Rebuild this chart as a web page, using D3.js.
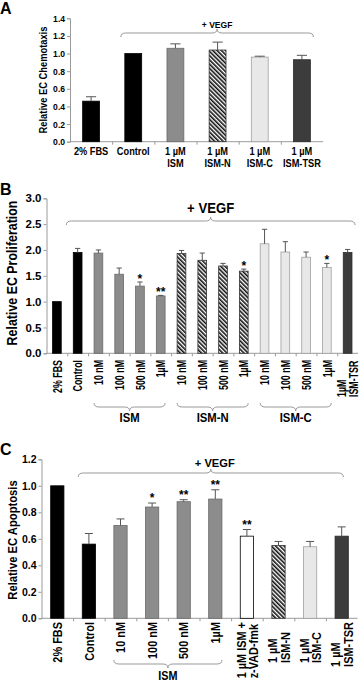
<!DOCTYPE html>
<html><head><meta charset="utf-8">
<script src="https://cdn.jsdelivr.net/npm/d3@7"></script>
<style>
body{margin:0;background:#fff}
svg{display:block}
text{font-family:"Liberation Sans",Arial,Helvetica,sans-serif;font-weight:bold;fill:#000}
</style>
</head><body>
<svg id="chart" width="360" height="683"></svg>
<script>
// ---------- Panel A: chemotaxis ----------
const catsA   = ["2% FBS", "Control", "1 µM\nISM", "1 µM\nISM-N", "1 µM\nISM-C", "1 µM\nISM-TSR"];
const typesA  = ["FBS", "Control", "ISM", "ISM-N", "ISM-C", "ISM-TSR"];
const valsA   = [0.46, 1.00, 1.06, 1.04, 0.96, 0.93];
const errsA   = [0.05, 0.00, 0.05, 0.09, 0.01, 0.05];
const sigA    = ["", "", "", "", "", ""];
const ticksA  = [0.0, 0.2, 0.4, 0.6, 0.8, 1.0, 1.2, 1.4];

// ---------- Panel B: proliferation ----------
const catsB   = ["2% FBS", "Control", "10 nM", "100 nM", "500 nM", "1µM",
                 "10 nM", "100 nM", "500 nM", "1µM",
                 "10 nM", "100 nM", "500 nM", "1µM", "1µM\nISM-TSR"];
const typesB  = ["FBS", "Control", "ISM", "ISM", "ISM", "ISM",
                 "ISM-N", "ISM-N", "ISM-N", "ISM-N",
                 "ISM-C", "ISM-C", "ISM-C", "ISM-C", "ISM-TSR"];
const valsB   = [1.00, 1.95, 1.94, 1.53, 1.30, 1.11, 1.93, 1.80, 1.69, 1.59, 2.12, 1.96, 1.86, 1.66, 1.95];
const errsB   = [0.00, 0.08, 0.06, 0.12, 0.08, 0.01, 0.06, 0.14, 0.05, 0.04, 0.28, 0.20, 0.10, 0.08, 0.06];
const sigB    = ["", "", "", "", "*", "**", "", "", "", "*", "", "", "", "*", ""];
const groupsB = [["ISM", 2, 5], ["ISM-N", 6, 9], ["ISM-C", 10, 13]];
const ticksB  = [0.0, 0.5, 1.0, 1.5, 2.0, 2.5, 3.0];

// ---------- Panel C: apoptosis ----------
const catsC   = ["2% FBS", "Control", "10 nM", "100 nM", "500 nM", "1µM",
                 "1 µM ISM +\nz-VAD-fmk", "1 µM\nISM-N", "1 µM\nISM-C", "1 µM\nISM-TSR"];
const typesC  = ["FBS", "Control", "ISM", "ISM", "ISM", "ISM", "zVAD", "ISM-N", "ISM-C", "ISM-TSR"];
const valsC   = [1.00, 0.56, 0.70, 0.84, 0.88, 0.90, 0.62, 0.55, 0.54, 0.62];
const errsC   = [0.00, 0.08, 0.05, 0.03, 0.015, 0.07, 0.05, 0.03, 0.04, 0.07];
const sigC    = ["", "", "", "*", "**", "**", "**", "", "", ""];
const groupsC = [["ISM", 2, 5]];
const ticksC  = [0.0, 0.2, 0.4, 0.6, 0.8, 1.0, 1.2];

const svg = d3.select("#chart");
const AXIS = "#9a9a9a";

// hatch pattern for ISM-N
const defs = svg.append("defs");
const pat = defs.append("pattern").attr("id", "hatch").attr("patternUnits", "userSpaceOnUse")
  .attr("width", 3).attr("height", 3).attr("patternTransform", "rotate(-45)");
pat.append("rect").attr("width", 3).attr("height", 3).attr("fill", "#fff");
pat.append("rect").attr("width", 1.6).attr("height", 3).attr("fill", "#111");

const fills = {
  "FBS":     {fill: "#000", stroke: "#000"},
  "Control": {fill: "#000", stroke: "#000"},
  "ISM":     {fill: "#8c8c8c", stroke: "#6a6a6a"},
  "ISM-N":   {fill: "url(#hatch)", stroke: "#333"},
  "ISM-C":   {fill: "#e8e8e8", stroke: "#a0a0a0"},
  "ISM-TSR": {fill: "#3c3c3c", stroke: "#2a2a2a"},
  "zVAD":    {fill: "#fff", stroke: "#000"}
};

function bracePath(x1, x2, y, dir, h, r) {
  const m = (x1 + x2) / 2;
  return `M${x1},${y - dir * h} Q${x1},${y} ${x1 + r},${y} L${m - r},${y} Q${m},${y} ${m},${y + dir * h}` +
         ` Q${m},${y} ${m + r},${y} L${x2 - r},${y} Q${x2},${y} ${x2},${y - dir * h}`;
}

// condensed text helper: horizontal (rot=false) or rotated -90
function ctext(g, x, y, str, fs, k, anchor, rot) {
  return g.append("text")
    .attr("transform", `translate(${x},${y})` + (rot ? " rotate(-90)" : "") + ` scale(${k},1)`)
    .attr("text-anchor", anchor).attr("font-size", fs).text(str);
}

function panel(o) {
  const g = svg.append("g");
  const idx = d3.range(o.cats.length);
  const x = d3.scaleBand().domain(idx).range(o.xr).paddingInner(o.pad).paddingOuter(o.pad / 2);
  const y = d3.scaleLinear().domain([0, o.ymax]).range(o.yr);
  const step = x.step(), bw = x.bandwidth();

  // y axis
  const ya = g.append("g").attr("transform", `translate(${o.xr[0]},0)`)
    .call(d3.axisLeft(y).tickValues(o.ticks).tickFormat(d3.format(".1f")).tickSize(3).tickPadding(2));
  ya.selectAll("path,line").attr("stroke", AXIS);
  ya.selectAll("text").attr("font-size", o.tick.fs).attr("fill", "#000")
    .style("font-family", "'Liberation Sans',Arial,sans-serif").style("font-weight", "bold")
    .attr("transform", `scale(${o.tick.k},1)`).attr("x", -5 / o.tick.k);

  // x axis baseline with boundary ticks
  const xa = g.append("g").attr("transform", `translate(0,${o.yr[0]})`)
    .call(d3.axisBottom(d3.scaleLinear().domain([0, o.cats.length]).range([o.xr[0], o.xr[0] + step * o.cats.length]))
      .tickValues(d3.range(1, o.cats.length)).tickSize(3).tickFormat(""));
  xa.selectAll("path,line").attr("stroke", AXIS);
  xa.select("path").attr("d", `M${o.xr[0]},0H${o.xr[1]}`);

  // y title
  ctext(g, o.title.x, o.title.y, o.title.text, o.title.fs, o.title.k, "middle", true);
  // panel letter
  g.append("text").attr("x", 0).attr("y", o.letterY).attr("font-size", 16).text(o.letter);

  // bars
  g.selectAll("rect.bar").data(idx).join("rect").attr("class", "bar")
    .attr("x", i => x(i)).attr("width", bw)
    .attr("y", i => y(o.vals[i])).attr("height", i => y(0) - y(o.vals[i]))
    .attr("fill", i => fills[o.types[i]].fill)
    .attr("stroke", i => fills[o.types[i]].stroke).attr("stroke-width", 0.8);

  // error bars (upper only)
  const eb = g.selectAll("g.err").data(idx.filter(i => o.errs[i] > 0)).join("g").attr("class", "err");
  eb.append("line").attr("x1", i => x(i) + bw / 2).attr("x2", i => x(i) + bw / 2)
    .attr("y1", i => y(o.vals[i])).attr("y2", i => y(o.vals[i] + o.errs[i]))
    .attr("stroke", "#555").attr("stroke-width", 1);
  eb.append("line").attr("x1", i => x(i) + bw / 2 - bw * 0.3).attr("x2", i => x(i) + bw / 2 + bw * 0.3)
    .attr("y1", i => y(o.vals[i] + o.errs[i])).attr("y2", i => y(o.vals[i] + o.errs[i]))
    .attr("stroke", "#555").attr("stroke-width", 1);

  // significance stars
  g.selectAll("text.sig").data(idx.filter(i => o.sig[i])).join("text").attr("class", "sig")
    .attr("x", i => x(i) + bw / 2).attr("y", i => y(o.vals[i] + o.errs[i]) + o.star.dy)
    .attr("text-anchor", "middle").attr("font-size", o.star.fs).text(i => o.sig[i]);

  // VEGF brace
  const bx1 = x(1) + o.brace.l, bx2 = x(o.cats.length - 1) + bw + o.brace.r;
  g.append("path").attr("d", bracePath(bx1, bx2, o.brace.y, -1, 4, 5))
    .attr("fill", "none").attr("stroke", "#999").attr("stroke-width", 1);
  ctext(g, (bx1 + bx2) / 2 + o.vegf.dx, o.brace.y - o.vegf.gap, "+ VEGF", o.vegf.fs, o.vegf.k, "middle", false);

  // category labels
  const L = o.lab;
  idx.forEach(i => {
    const lines = o.cats[i].split("\n");
    const cx = x(i) + bw / 2;
    if (!L.rot) {
      lines.forEach((l, k) => ctext(g, cx, L.y + k * L.lh, l, L.fs, L.k, "middle", false));
    } else if (lines.length === 1) {
      ctext(g, cx, L.y, lines[0], L.fs, L.k, "end", true).attr("dy", "0.36em");
    } else {
      // left-aligned (in rotated frame) block, bottom at least m.minY, top not above L.y
      const m = L.multi;
      const t = g.append("text").attr("text-anchor", "start").attr("font-size", L.fs);
      const spans = lines.map((l, k) => t.append("tspan").attr("x", 0).attr("y", k * m.lh).attr("dy", "0.36em").text(l));
      const maxLen = d3.max(spans, s => s.node().getComputedTextLength()) * L.k;
      const by = Math.max(m.minY, L.y + maxLen);
      t.attr("transform", `translate(${cx + m.dx},${by}) rotate(-90) scale(${L.k},1)`);
    }
  });

  // group brackets
  (o.groups || []).forEach(([name, a, b]) => {
    const x1 = x(a) + o.grp.pad, x2 = x(b) + bw - o.grp.pad;
    g.append("path").attr("d", bracePath(x1, x2, o.grp.y, 1, 4, 5))
      .attr("fill", "none").attr("stroke", "#999").attr("stroke-width", 1);
    ctext(g, (x1 + x2) / 2, o.grp.labY, name, o.grp.fs, o.grp.k, "middle", false);
  });
}

panel({
  letter: "A", letterY: 14, cats: catsA, types: typesA, vals: valsA, errs: errsA, sig: sigA,
  ticks: ticksA, ymax: 1.4, xr: [70, 323], yr: [141.7, 18.3], pad: 0.6,
  tick: {fs: 9.3, k: 0.92},
  title: {text: "Relative EC Chemotaxis", x: 46.5, y: 80, fs: 10.5, k: 0.89},
  star: {fs: 10, dy: 0}, brace: {l: -4, r: 3, y: 33}, vegf: {gap: 5, dx: 0, fs: 9.5, k: 0.9},
  lab: {rot: false, fs: 10.5, k: 0.88, y: 155, lh: 11.7}
});

panel({
  letter: "B", letterY: 195, cats: catsB, types: typesB, vals: valsB, errs: errsB, sig: sigB,
  ticks: ticksB, ymax: 3.0, xr: [46.5, 358], yr: [353.3, 198.3], pad: 0.58,
  tick: {fs: 11.5, k: 1},
  title: {text: "Relative EC Proliferation", x: 16.5, y: 273, fs: 14, k: 0.887},
  star: {fs: 12, dy: 1}, brace: {l: -7, r: 3, y: 221}, vegf: {gap: 8, dx: 0, fs: 14, k: 0.94},
  lab: {rot: true, fs: 13, k: 0.68, y: 360, multi: {dx: -6, lh: 12, minY: 397}},
  groups: groupsB, grp: {pad: 0, y: 407, labY: 422, fs: 13, k: 0.87}
});

panel({
  letter: "C", letterY: 455, cats: catsC, types: typesC, vals: valsC, errs: errsC, sig: sigC,
  ticks: ticksC, ymax: 1.2, xr: [41.5, 357.5], yr: [618.3, 459.3], pad: 0.58,
  tick: {fs: 10.5, k: 1},
  title: {text: "Relative EC Apoptosis", x: 16.5, y: 540, fs: 13, k: 0.865},
  star: {fs: 12, dy: -1}, brace: {l: -4, r: -5, y: 473}, vegf: {gap: 6, dx: 4, fs: 11.6, k: 0.96},
  lab: {rot: true, fs: 13, k: 0.84, y: 622, multi: {dx: -6, lh: 12.5, minY: 663}},
  groups: groupsC, grp: {pad: 0, y: 664, labY: 680, fs: 12, k: 0.9}
});
</script>
</body></html>
